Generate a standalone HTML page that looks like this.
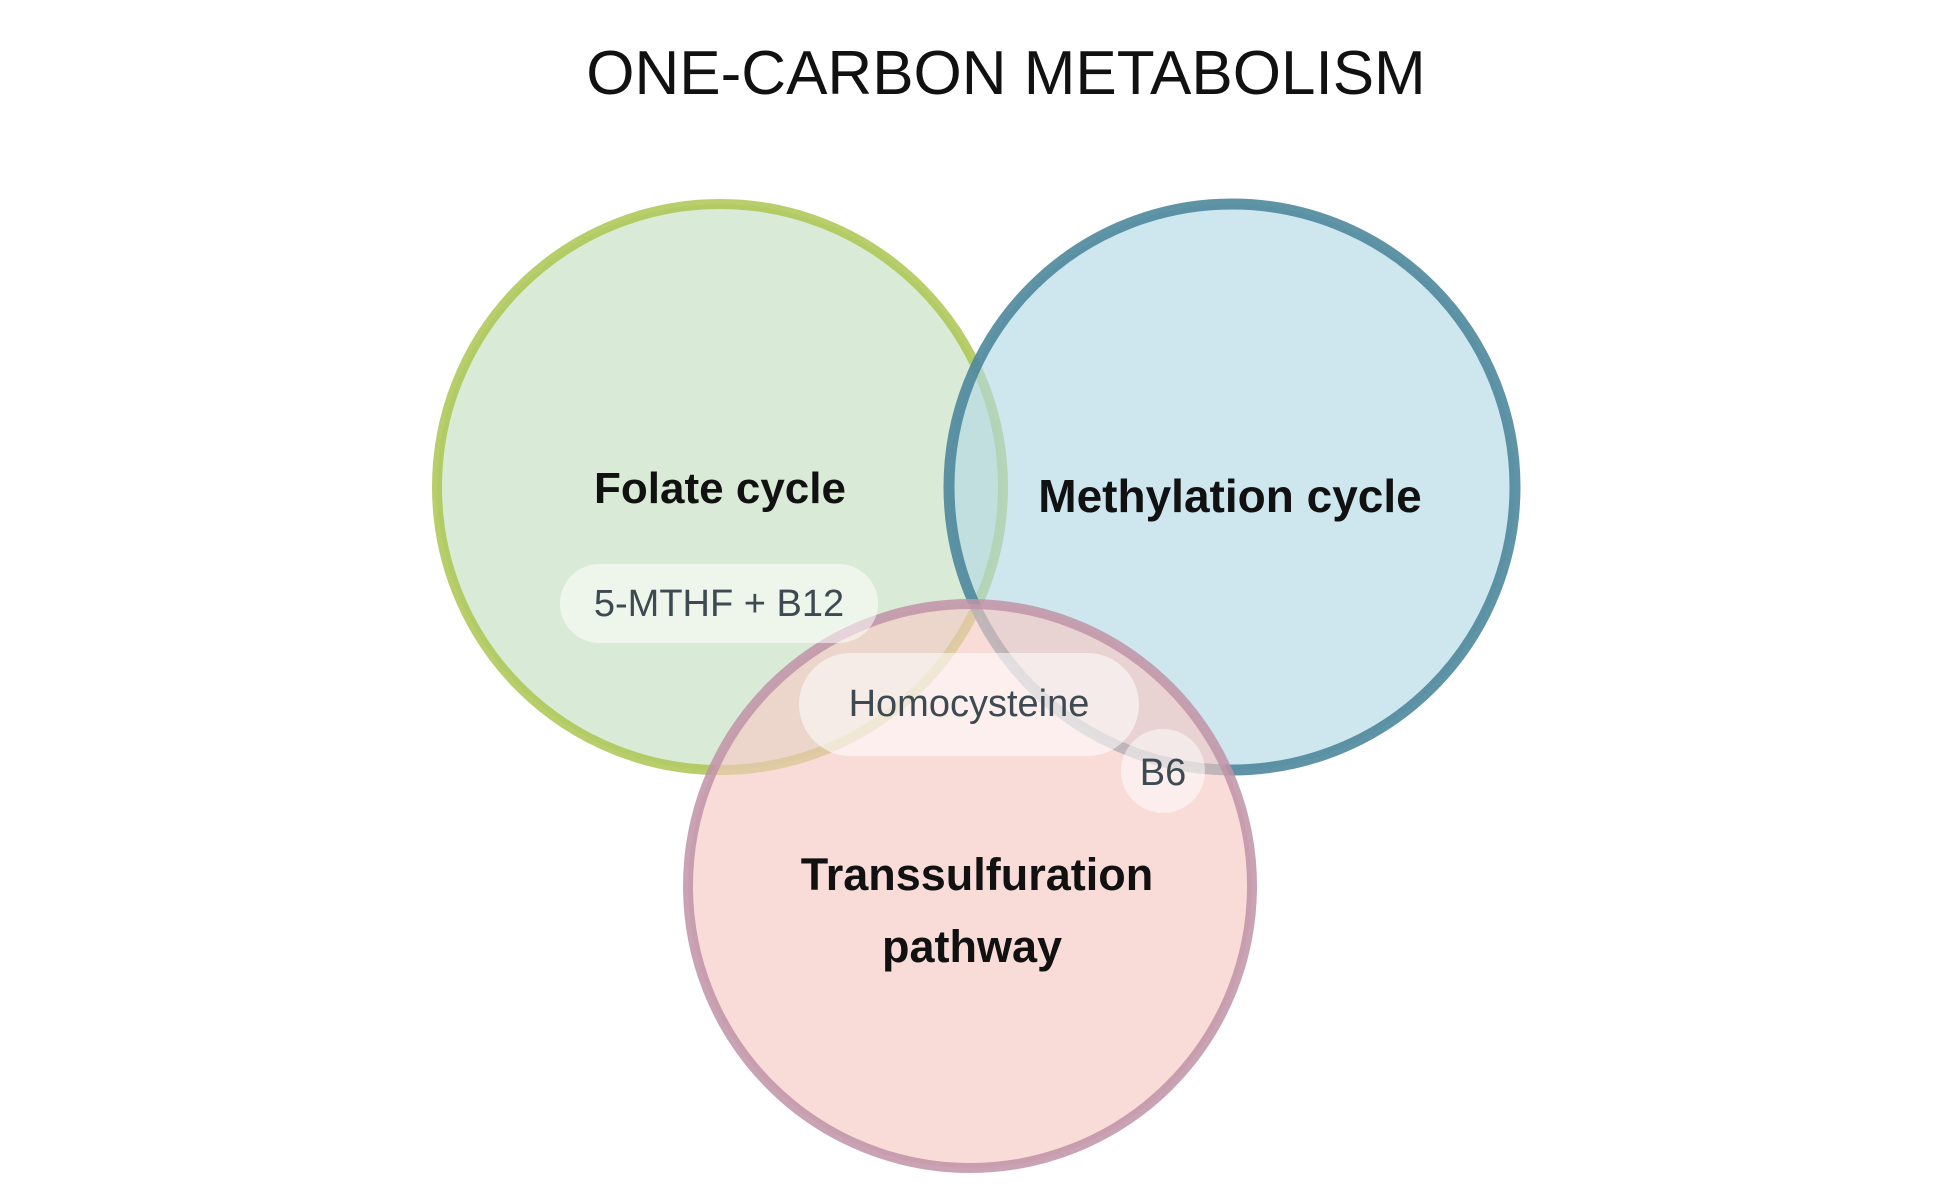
<!DOCTYPE html>
<html><head><meta charset="utf-8"><style>
html,body{margin:0;padding:0;background:#fff;}
svg{display:block;}
text{font-family:"Liberation Sans",sans-serif;}
</style></head><body>
<svg width="1940" height="1200" viewBox="0 0 1940 1200" xmlns="http://www.w3.org/2000/svg">
<text x="1006" y="94" text-anchor="middle" font-size="62" fill="#111">ONE-CARBON METABOLISM</text>
<circle cx="720" cy="487" r="283" fill="#c4e0c0" fill-opacity="0.65" stroke="#aac651" stroke-opacity="0.85" stroke-width="10"/>
<circle cx="1232" cy="487" r="283" fill="#b3d8e3" fill-opacity="0.65" stroke="#4e879c" stroke-opacity="0.9" stroke-width="11"/>
<circle cx="970" cy="886" r="282" fill="#f6c9c3" fill-opacity="0.65" stroke="#bf93a7" stroke-opacity="0.85" stroke-width="10"/>
<text x="720" y="503" text-anchor="middle" font-size="44" font-weight="bold" fill="#111">Folate cycle</text>
<text x="1230" y="512" text-anchor="middle" font-size="46" font-weight="bold" fill="#111">Methylation cycle</text>
<text x="977" y="890" text-anchor="middle" font-size="45" font-weight="bold" fill="#111">Transsulfuration</text>
<text x="972" y="962" text-anchor="middle" font-size="45" font-weight="bold" fill="#111">pathway</text>
<rect x="560" y="564" width="318" height="79" rx="39.5" fill="#ffffff" fill-opacity="0.55"/>
<text x="719" y="616" text-anchor="middle" font-size="38" fill="#3d4a52">5-MTHF + B12</text>
<rect x="799" y="653" width="340" height="103" rx="51.5" fill="#ffffff" fill-opacity="0.55"/>
<text x="969" y="716" text-anchor="middle" font-size="38" fill="#3d4a52">Homocysteine</text>
<circle cx="1163" cy="771" r="42" fill="#ffffff" fill-opacity="0.5"/>
<text x="1163" y="785" text-anchor="middle" font-size="38" fill="#3d4a52">B6</text>
</svg>
</body></html>
